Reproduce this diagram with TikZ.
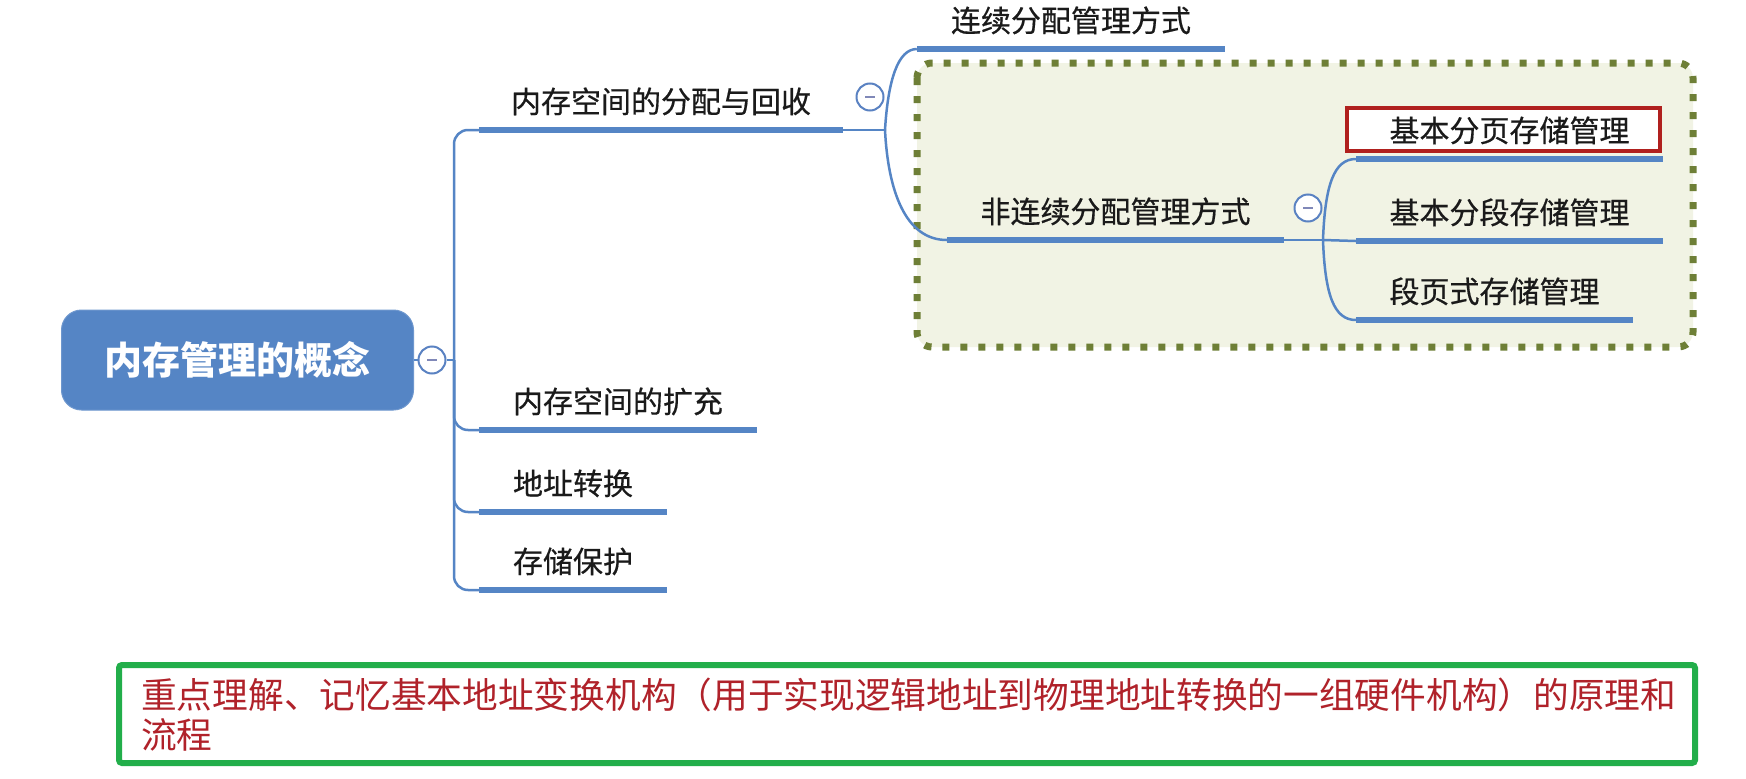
\documentclass[tikz,border=0pt]{standalone}
\usepackage{fontspec}
\newfontfamily\cjk{Noto Sans CJK SC}
\newfontfamily\cjkm[FakeBold=0.5]{Noto Sans CJK SC}
\definecolor{mblue}{HTML}{5585C5}
\definecolor{cblue}{HTML}{5A82C2}
\definecolor{minusc}{HTML}{8088B8}
\definecolor{tx}{HTML}{1A1A1A}
\definecolor{olive}{HTML}{6E7F36}
\definecolor{olivefill}{HTML}{F1F3E4}
\definecolor{hlred}{HTML}{B0201E}
\definecolor{notegreen}{HTML}{22AE4A}
\definecolor{notered}{HTML}{B0222A}
\begin{document}
\begin{tikzpicture}[x=1pt,y=-1pt,
  conn/.style={draw=mblue, line width=2.5pt},
  uline/.style={draw=mblue, line width=6.8pt},
  topic/.style={font={\cjkm\fontsize{30}{36}\selectfont}, text=tx, inner xsep=0pt, inner ysep=0pt, text height=24pt, text depth=17pt, anchor=south},
  rootbox/.style={rectangle, rounded corners=20pt, fill=mblue, draw=mblue!85!white, line width=1pt, text=white, font={\cjk\bfseries\fontsize{38}{44}\selectfont}, minimum width=352pt, minimum height=100pt, inner sep=0pt},
  collapse/.style={circle, draw=cblue, line width=2pt, fill=white, minimum size=27pt, inner sep=0pt},
  minus/.style={draw=minusc, line width=2.8pt},
  dotbox/.style={draw=olive, fill=olivefill, line width=7pt, dash pattern=on 7pt off 11pt, rounded corners=15pt},
  redbox/.style={rectangle, draw=hlred, line width=3.5pt, fill=white, minimum width=313pt, minimum height=43pt, inner sep=0pt},
  notebox/.style={rectangle, draw=notegreen, line width=6pt, rounded corners=3pt, fill=white, minimum width=1576pt, minimum height=98pt, inner sep=0pt},
  notetext/.style={font={\cjk\fontsize{35.7}{40}\selectfont}, text=notered, align=left, inner sep=0pt}
]
\fill[white] (0,0) rectangle (1746,779);
\useasboundingbox (0,0) rectangle (1746,779);

% dotted highlight area
\path[dotbox] (917,63) rectangle (1693,347);

% root
\node[rootbox] (root) at (237.5,360) {内存管理的概念};
\node[collapse] (rc) at (432,360) {};
\draw[minus] ([xshift=-5pt]rc.center) -- ([xshift=5pt]rc.center);
\coordinate (trunk) at (454,360);

% first level topics
\node[topic, minimum width=364pt] (b1) at (661,130) {内存空间的分配与回收};
\node[topic, minimum width=278pt] (b2) at (618,430) {内存空间的扩充};
\node[topic, minimum width=188pt] (b3) at (573,512) {地址转换};
\node[topic, minimum width=188pt] (b4) at (573,590) {存储保护};

% second level
\node[topic, minimum width=308pt] (c1) at (1071,49) {连续分配管理方式};
\node[topic, minimum width=337pt] (c2) at (1115.5,240) {非连续分配管理方式};

% third level
\node[redbox] (hl) at (1503.5,129.5) {};
\node[topic, minimum width=307pt] (d1) at (1509.5,159) {基本分页存储管理};
\node[topic, minimum width=307pt] (d2) at (1509.5,241) {基本分段存储管理};
\node[topic, minimum width=277pt] (d3) at (1494.5,320) {段页式存储管理};

% underlines
\foreach \n in {b1,b2,b3,b4,c1,c2,d1,d2,d3}
  \draw[uline] (\n.south west) -- (\n.south east);

% connectors from root
\draw[conn] (root.east) -- (rc.west);
\draw[conn] (rc.east) -- (trunk);
\foreach \n in {b1,b2,b3,b4}
  \draw[conn, rounded corners=14pt] (trunk) |- (\n.south west);

% branch 1 split
\coordinate (s1) at (885,130);
\draw[conn] (b1.south east) -- (s1);
\draw[conn] (s1) .. controls (888,80) and (898,49) .. (c1.south west);
\draw[conn] (s1) .. controls (888,190) and (905,240) .. (c2.south west);
\node[collapse] (bc1) at (870,97) {};
\draw[minus] ([xshift=-5pt]bc1.center) -- ([xshift=5pt]bc1.center);

% branch c2 split
\coordinate (s2) at (1323,240);
\draw[conn] (c2.south east) -- (s2);
\draw[conn] (s2) .. controls (1325,185) and (1334,159) .. (d1.south west);
\draw[conn] (s2) -- (d2.south west);
\draw[conn] (s2) .. controls (1325,295) and (1334,320) .. (d3.south west);
\node[collapse] (bc2) at (1308,208) {};
\draw[minus] ([xshift=-5pt]bc2.center) -- ([xshift=5pt]bc2.center);

% note
\node[notebox] (nb) at (907,714) {};
\node[notetext, anchor=west] (nt) at (141,715) {重点理解、记忆基本地址变换机构（用于实现逻辑地址到物理地址转换的一组硬件机构）的原理和\\流程};
\end{tikzpicture}
\end{document}
